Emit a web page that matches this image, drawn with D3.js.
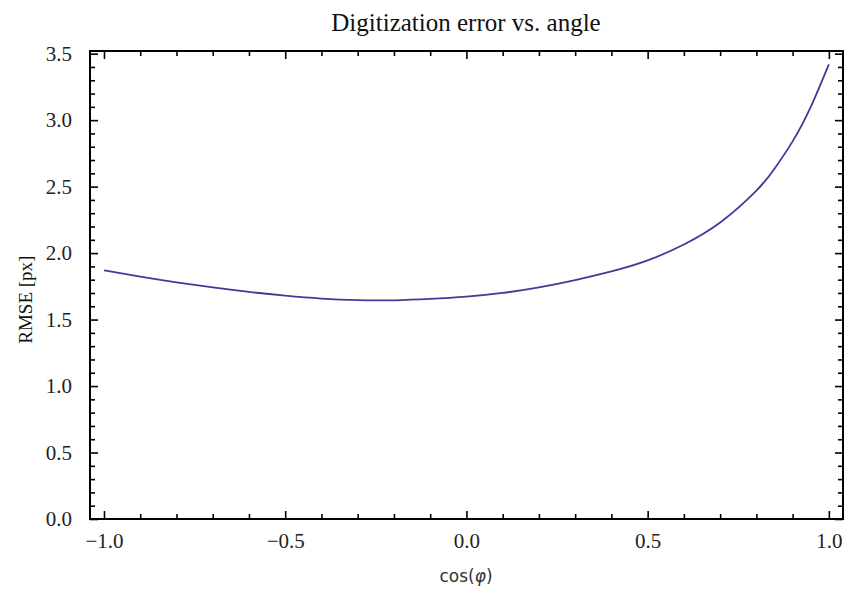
<!DOCTYPE html>
<html>
<head>
<meta charset="utf-8">
<script src="https://cdn.jsdelivr.net/npm/d3@7"></script>
<style>
  body { margin: 0; background: #fff; }
  svg { display: block; }
</style>
</head>
<body>
<div id="chart"></div>
<script>
// values
let cosPhi = [-1.0, -0.9, -0.8, -0.7, -0.6, -0.5, -0.4, -0.3, -0.2, -0.1, 0.0,
              0.1, 0.2, 0.3, 0.4, 0.5, 0.6, 0.7, 0.8, 0.85, 0.9, 0.95, 1.0];
let rmse = [1.87, 1.823, 1.78, 1.742, 1.708, 1.68, 1.658, 1.646, 1.645, 1.655, 1.672,
            1.70, 1.742, 1.797, 1.862, 1.945, 2.065, 2.23, 2.47, 2.635, 2.84, 3.10, 3.42];
let xTicks = [-1.0, -0.5, 0.0, 0.5, 1.0];
let yTicks = [0.0, 0.5, 1.0, 1.5, 2.0, 2.5, 3.0, 3.5];

let width = 845, height = 593;
let lineColor = '#3d3d99',
    frameColor = '#000';

let x = d3.scaleLinear().domain([-1.0386, 1.039]).range([90, 843]);
let y = d3.scaleLinear().domain([0, 3.52]).range([519, 51]);

let svg = d3.select('#chart').append('svg')
    .attr('width', width)
    .attr('height', height);

// minor ticks every 0.1
let xMinor = d3.range(-10, 11).map(d => d / 10).filter(d => !xTicks.some(t => Math.abs(t - d) < 1e-9));
let yMinor = d3.range(0, 36).map(d => d / 10).filter(d => !yTicks.some(t => Math.abs(t - d) < 1e-9));

function fmt(d) {
    return d3.format('.1f')(d).replace('-', '\u2212');
}

let fr = x.range(), fy = y.range();

// bottom axis (ticks inward)
let axBottom = svg.append('g').attr('transform', 'translate(0,' + fy[0] + ')');
axBottom.call(d3.axisBottom(x).tickValues(xTicks).tickSize(-8).tickPadding(14).tickFormat(fmt));
axBottom.append('g').call(d3.axisBottom(x).tickValues(xMinor).tickSize(-5).tickFormat(''));
// top axis
let axTop = svg.append('g').attr('transform', 'translate(0,' + fy[1] + ')');
axTop.call(d3.axisTop(x).tickValues(xTicks).tickSize(-8).tickFormat(''));
axTop.append('g').call(d3.axisTop(x).tickValues(xMinor).tickSize(-5).tickFormat(''));
// left axis
let axLeft = svg.append('g').attr('transform', 'translate(' + fr[0] + ',0)');
axLeft.call(d3.axisLeft(y).tickValues(yTicks).tickSize(-8).tickPadding(18).tickFormat(fmt));
axLeft.append('g').call(d3.axisLeft(y).tickValues(yMinor).tickSize(-5).tickFormat(''));
// right axis
let axRight = svg.append('g').attr('transform', 'translate(' + fr[1] + ',0)');
axRight.call(d3.axisRight(y).tickValues(yTicks).tickSize(-8).tickFormat(''));
axRight.append('g').call(d3.axisRight(y).tickValues(yMinor).tickSize(-5).tickFormat(''));

svg.selectAll('.domain').remove();
svg.selectAll('.tick line').attr('stroke', frameColor).attr('stroke-width', 1.6);
svg.selectAll('.tick text')
    .attr('font-family', '"Liberation Serif", "Times New Roman", serif')
    .attr('font-size', 21)
    .attr('fill', '#222');

// frame
svg.append('rect')
    .attr('x', fr[0]).attr('y', fy[1])
    .attr('width', fr[1] - fr[0]).attr('height', fy[0] - fy[1])
    .attr('fill', 'none')
    .attr('stroke', frameColor)
    .attr('stroke-width', 2);

// curve
let line = d3.line()
    .x((d, i) => x(cosPhi[i]))
    .y(d => y(d))
    .curve(d3.curveNatural);

svg.append('path')
    .datum(rmse)
    .attr('d', line)
    .attr('fill', 'none')
    .attr('stroke', lineColor)
    .attr('stroke-width', 1.8);

// title and labels
svg.append('text')
    .attr('x', 466).attr('y', 31)
    .attr('text-anchor', 'middle')
    .attr('font-family', '"Liberation Serif", "Times New Roman", serif')
    .attr('font-size', 25)
    .attr('fill', '#111')
    .text('Digitization error vs. angle');

let xLab = svg.append('text')
    .attr('x', 466).attr('y', 582)
    .attr('text-anchor', 'middle')
    .attr('font-family', '"DejaVu Sans", sans-serif')
    .attr('font-size', 17)
    .attr('fill', '#333');
xLab.append('tspan').text('cos(');
xLab.append('tspan').attr('font-style', 'italic').text('\u03C6');
xLab.append('tspan').text(')');

svg.append('text')
    .attr('transform', 'translate(32,' + y(1.65) + ') rotate(-90)')
    .attr('text-anchor', 'middle')
    .attr('font-family', '"Liberation Serif", "Times New Roman", serif')
    .attr('font-size', 19)
    .attr('fill', '#111')
    .text('RMSE [px]');
</script>
</body>
</html>
